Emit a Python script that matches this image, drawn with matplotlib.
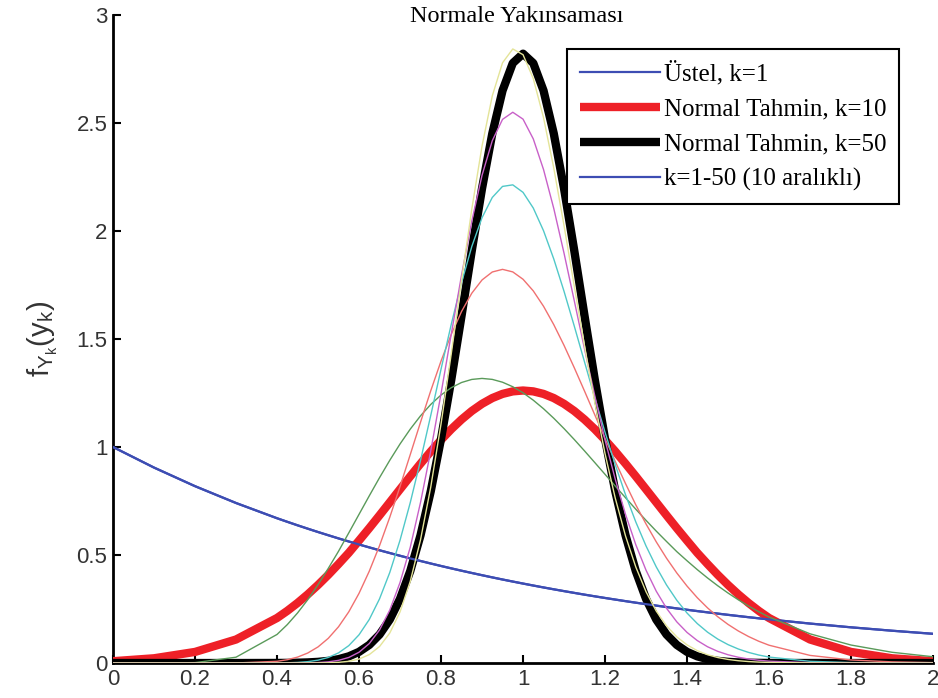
import matplotlib
matplotlib.use("Agg")
import matplotlib.pyplot as plt

# grid of y_k values (denser where the curves are steep)
x = [0.0, 0.1, 0.2, 0.3, 0.4, 0.425, 0.45, 0.475, 0.5, 0.525, 0.55, 0.575, 0.6,
     0.625, 0.65, 0.675, 0.7, 0.725, 0.75, 0.775, 0.8, 0.825, 0.85, 0.875, 0.9,
     0.925, 0.95, 0.975, 1.0, 1.025, 1.05, 1.075, 1.1, 1.125, 1.15, 1.175, 1.2,
     1.225, 1.25, 1.275, 1.3, 1.325, 1.35, 1.375, 1.4, 1.425, 1.45, 1.475, 1.5,
     1.525, 1.55, 1.575, 1.6, 1.7, 1.8, 1.9, 2.0]

# exponential, k=1
ustel = [1.0, 0.9048, 0.8187, 0.7408, 0.6703, 0.6538, 0.6376, 0.6219, 0.6065,
         0.5916, 0.5769, 0.5627, 0.5488, 0.5353, 0.5220, 0.5092, 0.4966, 0.4843,
         0.4724, 0.4607, 0.4493, 0.4382, 0.4274, 0.4169, 0.4066, 0.3965, 0.3867,
         0.3772, 0.3679, 0.3588, 0.3499, 0.3413, 0.3329, 0.3247, 0.3166, 0.3088,
         0.3012, 0.2938, 0.2865, 0.2794, 0.2725, 0.2658, 0.2592, 0.2528, 0.2466,
         0.2405, 0.2346, 0.2288, 0.2231, 0.2176, 0.2122, 0.2070, 0.2019, 0.1827,
         0.1653, 0.1496, 0.1353]

# normal approximations
normal10 = [0.0085, 0.0220, 0.0514, 0.1089, 0.2085, 0.2415, 0.2780, 0.3180,
            0.3615, 0.4083, 0.4583, 0.5102, 0.5669, 0.6245, 0.6838, 0.7440,
            0.8044, 0.8644, 0.9230, 0.9795, 1.0329, 1.0825, 1.1273, 1.1668,
            1.2000, 1.2266, 1.2459, 1.2576, 1.2616, 1.2576, 1.2459, 1.2266,
            1.2000, 1.1668, 1.1273, 1.0825, 1.0329, 0.9795, 0.9230, 0.8644,
            0.8044, 0.7440, 0.6838, 0.6245, 0.5669, 0.5102, 0.4583, 0.4083,
            0.3615, 0.3180, 0.2780, 0.2415, 0.2085, 0.1089, 0.0514, 0.0220, 0.0085]

normal50 = [0.0, 0.0, 0.0, 0.0, 0.0003, 0.0007, 0.0015, 0.0029, 0.0054, 0.0100,
            0.0179, 0.0309, 0.0517, 0.0839, 0.1319, 0.2012, 0.2973, 0.4259,
            0.5913, 0.7957, 1.0378, 1.3119, 1.6073, 1.9088, 2.1969, 2.4509,
            2.6500, 2.7772, 2.8209, 2.7772, 2.6500, 2.4509, 2.1969, 1.9088,
            1.6073, 1.3119, 1.0378, 0.7957, 0.5913, 0.4259, 0.2973, 0.2012,
            0.1319, 0.0839, 0.0517, 0.0309, 0.0179, 0.0100, 0.0054, 0.0029,
            0.0015, 0.0007, 0.0003, 0.0, 0.0, 0.0, 0.0]

# k = 10, 20, 30, 40, 50
k10 = [0.0, 0.0, 0.0019, 0.0270, 0.1323, 0.1778, 0.2317, 0.2935, 0.3627, 0.4382,
       0.5175, 0.6026, 0.6884, 0.7741, 0.8581, 0.9386, 1.0141, 1.0830, 1.1444,
       1.1972, 1.2408, 1.2747, 1.2987, 1.3129, 1.3176, 1.3131, 1.3000, 1.2791,
       1.2511, 1.2168, 1.1772, 1.1331, 1.0853, 1.0347, 0.9820, 0.9281, 0.8736,
       0.8191, 0.7652, 0.7122, 0.6605, 0.6106, 0.5627, 0.5158, 0.4734, 0.4324,
       0.3938, 0.3577, 0.3241, 0.2929, 0.2640, 0.2375, 0.2131, 0.1353, 0.0833,
       0.0498, 0.0291]

k20 = [0.0, 0.0, 0.0, 0.0002, 0.0080, 0.0153, 0.0274, 0.0464, 0.0746, 0.1144,
       0.1679, 0.2370, 0.3227, 0.4252, 0.5433, 0.6750, 0.8170, 0.9653, 1.1149,
       1.2609, 1.3980, 1.5215, 1.6273, 1.7120, 1.7734, 1.8103, 1.8225, 1.8107,
       1.7767, 1.7228, 1.6516, 1.5665, 1.4706, 1.3670, 1.2589, 1.1490, 1.0397,
       0.9330, 0.8307, 0.7324, 0.6438, 0.5608, 0.4852, 0.4170, 0.3562, 0.3024,
       0.2553, 0.2142, 0.1788, 0.1485, 0.1227, 0.1008, 0.0825, 0.0353, 0.0142,
       0.0054, 0.0019]

k30 = [0.0, 0.0, 0.0, 0.0, 0.0004, 0.0011, 0.0028, 0.0064, 0.0133, 0.0258,
       0.0470, 0.0805, 0.1307, 0.2017, 0.2971, 0.4192, 0.5685, 0.7430, 0.9381,
       1.1469, 1.3603, 1.5685, 1.7609, 1.9280, 2.0615, 2.1554, 2.2065, 2.2137,
       2.1790, 2.1064, 2.0013, 1.8705, 1.7209, 1.5598, 1.3937, 1.2283, 1.0685,
       0.9178, 0.7789, 0.6533, 0.5420, 0.4448, 0.3613, 0.2906, 0.2314, 0.1827,
       0.1429, 0.1108, 0.0852, 0.0650, 0.0492, 0.0370, 0.0276, 0.0080, 0.0021,
       0.0005, 0.0001]

k40 = [0.0, 0.0, 0.0, 0.0, 0.0, 0.0001, 0.0003, 0.0008, 0.0022, 0.0055, 0.0124,
       0.0258, 0.0499, 0.0901, 0.1530, 0.2453, 0.3727, 0.5363, 0.7437, 0.9828,
       1.2471, 1.5234, 1.7953, 2.0456, 2.2577, 2.4179, 2.5168, 2.5498, 2.5179,
       2.4265, 2.2847, 2.1042, 1.8974, 1.6769, 1.4537, 1.2372, 1.0323, 0.8505,
       0.6880, 0.5479, 0.4298, 0.3324, 0.2535, 0.1907, 0.1417, 0.1040, 0.0754,
       0.0540, 0.0383, 0.0268, 0.0186, 0.0128, 0.0087, 0.0017, 0.0003, 0.0, 0.0]

k50 = [0.0, 0.0, 0.0, 0.0, 0.0, 0.0, 0.0, 0.0001, 0.0004, 0.0011, 0.0032, 0.0080,
       0.0184, 0.0390, 0.0763, 0.1389, 0.2365, 0.3783, 0.5706, 0.8152, 1.1067,
       1.4322, 1.7718, 2.1010, 2.3934, 2.6255, 2.7789, 2.8429, 2.8163, 2.7057,
       2.5247, 2.2913, 2.0251, 1.7450, 1.4678, 1.2063, 0.9697, 0.7630, 0.5883,
       0.4448, 0.3300, 0.2404, 0.1721, 0.1212, 0.0840, 0.0573, 0.0385, 0.0255,
       0.0166, 0.0107, 0.0068, 0.0043, 0.0027, 0.0004, 0.0, 0.0, 0.0]

family = [ustel, k10, k20, k30, k40, k50]
family_colors = ['#3d4db3', '#5a9a5a', '#f07070', '#50c8c8', '#c860c8', '#e4e498']

labels = ['Üstel, k=1', 'Normal Tahmin, k=10', 'Normal Tahmin, k=50',
          'k=1-50 (10 aralıklı)']

plt.rcParams['font.family'] = ['Liberation Serif', 'DejaVu Serif']
plt.rcParams['mathtext.default'] = 'regular'

fig = plt.figure(figsize=(9.38, 6.98), dpi=100)
ax = fig.add_axes([0.1205, 0.0501, 0.8742, 0.9284])

h1, = ax.plot(x, ustel, color='#3d4db3', lw=1.6, zorder=3)
h2, = ax.plot(x, normal10, color='#ee2027', lw=6, solid_joinstyle='round',
              solid_capstyle='butt', zorder=3)
h3, = ax.plot(x, normal50, color='black', lw=6, solid_joinstyle='round',
              solid_capstyle='butt', zorder=3)
fam = []
for y, c in zip(family, family_colors):
    h, = ax.plot(x, y, color=c, lw=1.0, zorder=4)
    fam.append(h)
fam[0].set_linewidth(1.6)

ax.set_xlim(0, 2)
ax.set_ylim(0, 3)
ax.set_xticks([0, 0.2, 0.4, 0.6, 0.8, 1, 1.2, 1.4, 1.6, 1.8, 2])
ax.set_xticklabels(['0', '0.2', '0.4', '0.6', '0.8', '1', '1.2', '1.4', '1.6', '1.8', '2'])
ax.set_yticks([0, 0.5, 1, 1.5, 2, 2.5, 3])
ax.set_yticklabels(['0', '0.5', '1', '1.5', '2', '2.5', '3'])
for lab in ax.get_xticklabels() + ax.get_yticklabels():
    lab.set_family(['Liberation Sans Narrow', 'Liberation Sans'])
    lab.set_fontsize(16)
    lab.set_color('#333333')
ax.tick_params(direction='in', length=6, width=1.5, pad=4)
ax.spines['top'].set_visible(False)
ax.spines['right'].set_visible(False)
for s in ['left', 'bottom']:
    ax.spines[s].set_linewidth(2)

ax.set_ylabel(r'$f_{Y_k}(y_k)$', fontsize=21, family=['Liberation Sans', 'DejaVu Sans'],
              color='#333333', labelpad=12)
fig.text(0.551, 0.976, 'Normale Yakınsaması', fontsize=17.5, ha='center', va='center')

leg = ax.legend([h1, h2, h3, fam[0]], labels, loc='upper right',
                bbox_to_anchor=(0.958, 0.948), fontsize=18, handlelength=3.2,
                handletextpad=0.15, borderpad=0.5, labelspacing=0.5,
                fancybox=False, framealpha=1, borderaxespad=0)
leg.get_frame().set_edgecolor('black')
leg.get_frame().set_linewidth(1.5)
leg.set_zorder(10)

fig.savefig('out.png', dpi=100)
